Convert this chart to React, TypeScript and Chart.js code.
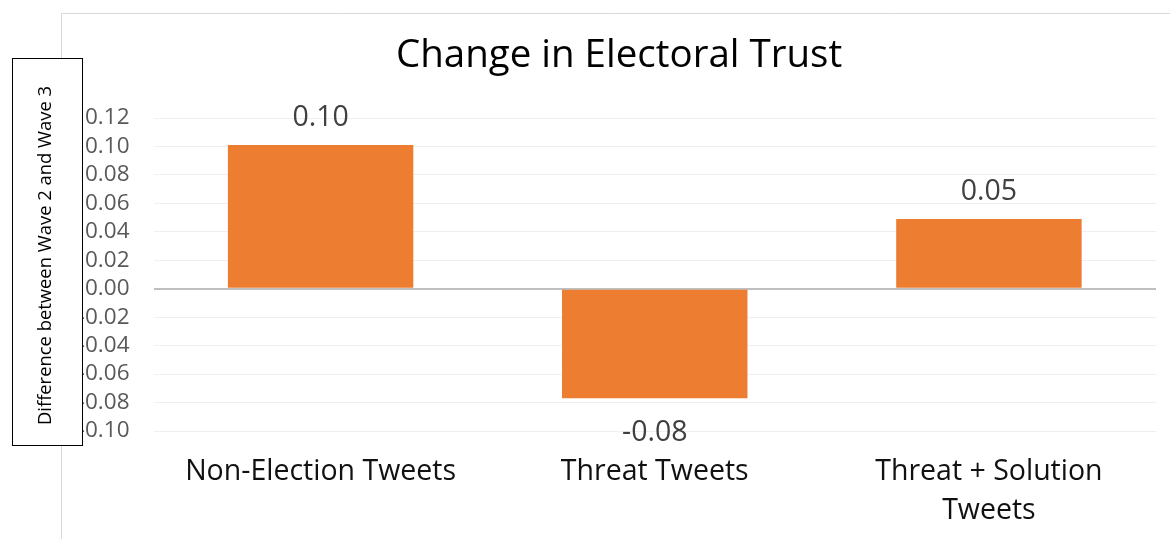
import React, { useEffect, useRef } from 'react';
import { Chart, registerables } from 'chart.js';

Chart.register(...registerables);

const categories: (string | string[])[] = ['Non-Election Tweets', 'Threat Tweets', ['Threat + Solution', 'Tweets']];
const values: number[] = [0.101, -0.077, 0.049];
const valueLabels: string[] = ['0.10', '-0.08', '0.05'];
const yMin = -0.1;
const yMax = 0.12;
const yStep = 0.02;
const chartTitle = 'Change in Electoral Trust';
const yAxisTitle = 'Difference between Wave 2 and Wave 3';

const W = 1170;
const H = 539;
const FONT = '"Open Sans", Lato, sans-serif';

const decorations = {
  id: 'decorations',
  beforeDraw(chart: any) {
    const ctx = chart.ctx;
    ctx.save();
    ctx.fillStyle = '#ffffff';
    ctx.fillRect(0, 0, W, H);
    ctx.strokeStyle = '#d9d9d9';
    ctx.lineWidth = 1;
    ctx.beginPath();
    ctx.moveTo(61.5, H);
    ctx.lineTo(61.5, 13.5);
    ctx.lineTo(W, 13.5);
    ctx.stroke();
    ctx.fillStyle = '#000000';
    ctx.font = `38.5px ${FONT}`;
    ctx.textAlign = 'center';
    ctx.textBaseline = 'middle';
    ctx.fillText(chartTitle, 619, 56);
    ctx.restore();
  },
  afterDatasetsDraw(chart: any) {
    const ctx = chart.ctx;
    const meta = chart.getDatasetMeta(0);
    ctx.save();
    ctx.fillStyle = '#404040';
    ctx.font = `28.5px ${FONT}`;
    ctx.textAlign = 'center';
    ctx.textBaseline = 'middle';
    meta.data.forEach((bar: any, i: number) => {
      const v = values[i];
      const y = v >= 0 ? bar.y - 27.5 : bar.y + 35;
      ctx.fillText(valueLabels[i], bar.x, y);
    });
    ctx.restore();
  },
  afterDraw(chart: any) {
    const ctx = chart.ctx;
    ctx.save();
    ctx.fillStyle = '#ffffff';
    ctx.fillRect(12, 58, 70, 387);
    ctx.strokeStyle = '#000000';
    ctx.lineWidth = 1;
    ctx.strokeRect(12.5, 58.5, 70, 387);
    ctx.translate(46, 255.5);
    ctx.rotate(-Math.PI / 2);
    ctx.fillStyle = '#000000';
    ctx.font = `18.4px ${FONT}`;
    ctx.textAlign = 'center';
    ctx.textBaseline = 'middle';
    ctx.fillText(yAxisTitle, 0, 0);
    ctx.restore();
  },
};

export default function App() {
  const canvasRef = useRef<HTMLCanvasElement | null>(null);

  useEffect(() => {
    if (!canvasRef.current) return;
    const chart = new Chart(canvasRef.current, {
      type: 'bar',
      data: {
        labels: categories,
        datasets: [
          {
            data: values,
            backgroundColor: '#ED7D31',
            borderWidth: 0,
            categoryPercentage: 1,
            barPercentage: 0.555,
          },
        ],
      },
      options: {
        responsive: false,
        animation: false,
        devicePixelRatio: 1,
        layout: { padding: { top: 118, right: 14, bottom: 0, left: 0 } },
        plugins: {
          legend: { display: false },
          tooltip: { enabled: false },
          title: { display: false },
        },
        scales: {
          x: {
            grid: { display: false, drawTicks: false },
            border: { display: false },
            ticks: {
              padding: 21.5,
              maxRotation: 0,
              autoSkip: false,
              color: '#111111',
              font: { family: FONT, size: 28.5, lineHeight: 1.37 },
            },
            afterFit(scale: any) {
              scale.height = 108;
            },
          },
          y: {
            min: yMin,
            max: yMax,
            border: { display: false },
            grid: {
              drawTicks: false,
              color: (c: any) => (c.tick && Math.abs(c.tick.value) < 1e-9 ? '#bfbfbf' : '#efefef'),
              lineWidth: (c: any) => (c.tick && Math.abs(c.tick.value) < 1e-9 ? 2 : 1),
            },
            ticks: {
              stepSize: yStep,
              autoSkip: false,
              padding: 24,
              color: '#595959',
              font: { family: FONT, size: 22.5 },
              callback: (v: any) => {
                const n = Number(v);
                return (Math.abs(n) < 1e-9 ? 0 : n).toFixed(2);
              },
            },
            afterFit(scale: any) {
              scale.width = 153.5;
            },
          },
        },
      },
      plugins: [decorations],
    });
    return () => chart.destroy();
  }, []);

  return (
    <div style={{ position: 'fixed', left: 0, top: 0, width: W, height: H, background: '#fff' }}>
      <canvas ref={canvasRef} width={W} height={H} style={{ display: 'block' }} />
    </div>
  );
}
